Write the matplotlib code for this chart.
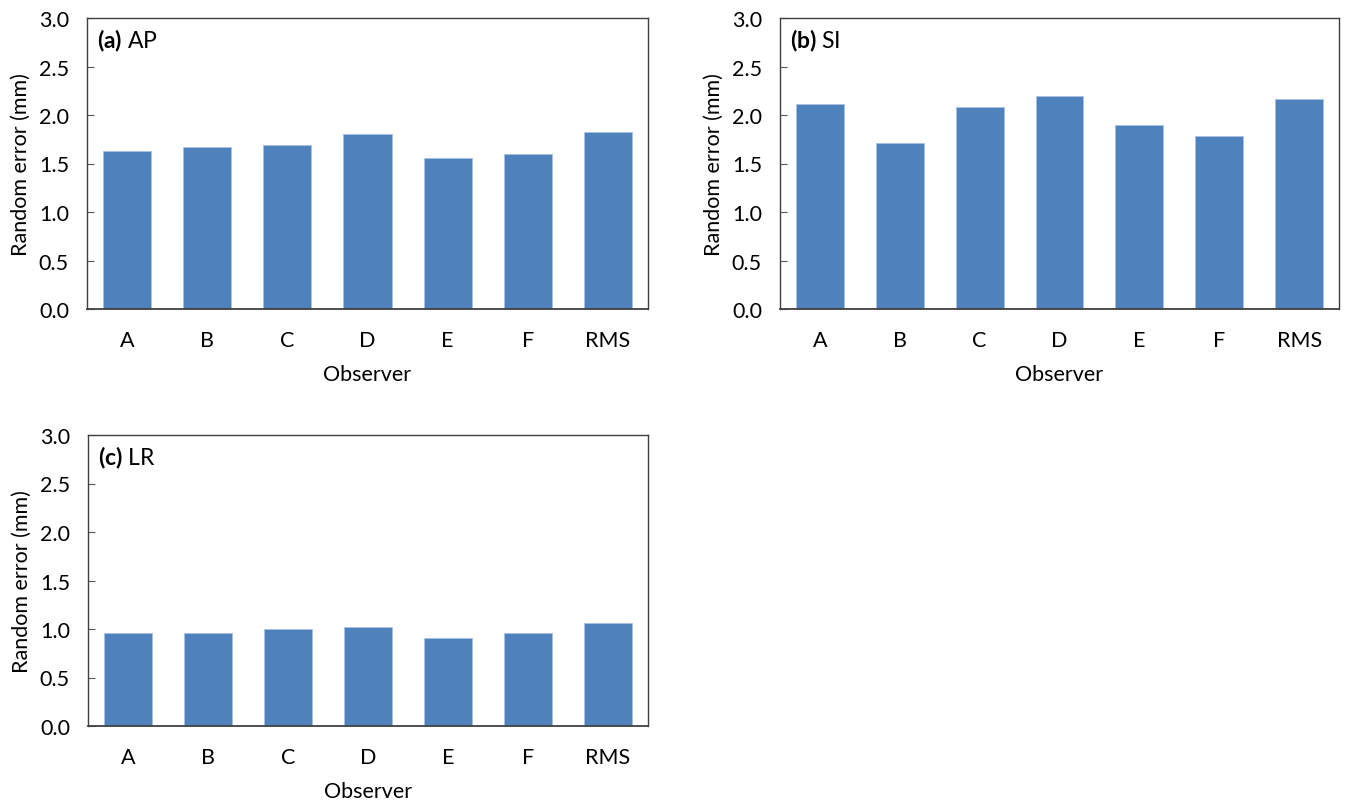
import matplotlib
matplotlib.use('Agg')
import matplotlib.pyplot as plt
import numpy as np

plt.rcParams['font.family'] = ['Lato', 'DejaVu Sans']
plt.rcParams['mathtext.fontset'] = 'custom'
plt.rcParams['mathtext.rm'] = 'Lato'
plt.rcParams['mathtext.bf'] = 'Lato:bold'

observers = ['A', 'B', 'C', 'D', 'E', 'F', 'RMS']
ap_error = [1.63, 1.67, 1.69, 1.80, 1.56, 1.60, 1.82]
si_error = [2.11, 1.71, 2.08, 2.20, 1.90, 1.78, 2.16]
lr_error = [0.96, 0.96, 1.00, 1.02, 0.91, 0.96, 1.06]

panels = [
    ('(a)', 'AP', ap_error, [87, 19, 648, 310]),
    ('(b)', 'SI', si_error, [780, 19, 1339, 310]),
    ('(c)', 'LR', lr_error, [88, 436, 648, 727]),
]

W, H = 1346, 804
fig = plt.figure(figsize=(W / 100, H / 100), dpi=100)

fs = 15.5
bar_color = '#4F81BD'
for tag, name, vals, (x0, y0, x1, y1) in panels:
    ax = fig.add_axes([x0 / W, 1 - y1 / H, (x1 - x0) / W, (y1 - y0) / H])
    x = np.arange(len(observers))
    ax.bar(x, vals, width=0.6, color=bar_color, edgecolor='#A9C1E0', linewidth=0.6)
    ax.set_xlim(-0.5, len(observers) - 0.5)
    ax.set_ylim(0, 3.0)
    ax.set_yticks(np.arange(0, 3.01, 0.5))
    ax.set_yticklabels(['%.1f' % v for v in np.arange(0, 3.01, 0.5)])
    ax.set_xticks(x)
    ax.set_xticklabels(observers)
    ax.tick_params(axis='x', length=0, pad=15, labelsize=fs)
    ax.tick_params(axis='y', direction='in', length=5, width=0.8, color='#595959',
                   pad=13, labelsize=fs)
    for s in ax.spines.values():
        s.set_color('#404040')
        s.set_linewidth(1.0)
    ax.spines['bottom'].set_linewidth(1.3)
    ax.set_ylabel('Random error (mm)', fontsize=fs, labelpad=6)
    ax.set_xlabel('Observer', fontsize=fs, labelpad=10)
    ax.text(0.018, 0.925, r'$\mathbf{' + tag + '}$ ' + name, transform=ax.transAxes,
            fontsize=fs + 1, va='center', ha='left')

fig.savefig('out.png', dpi=100)
